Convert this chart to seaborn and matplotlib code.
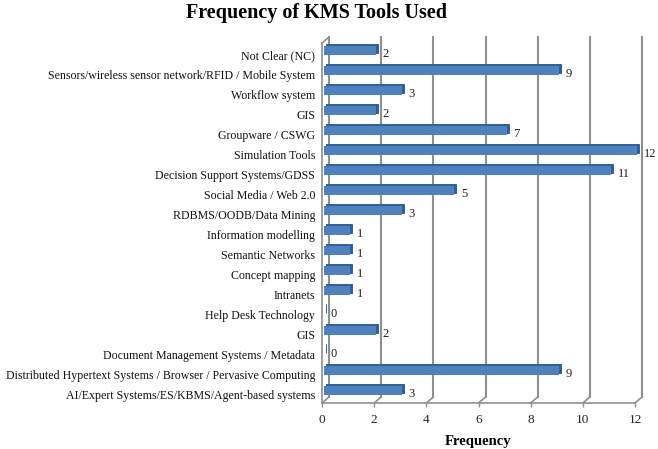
import matplotlib
matplotlib.use("Agg")
import matplotlib.pyplot as plt
import seaborn as sns
import pandas as pd
from matplotlib.transforms import Affine2D

categories = ["Not Clear (NC)", "Sensors/wireless sensor network/RFID / Mobile System", "Workflow system", "GIS",
              "Groupware / CSWG", "Simulation Tools", "Decision Support Systems/GDSS", "Social Media / Web 2.0",
              "RDBMS/OODB/Data Mining", "Information modelling", "Semantic Networks", "Concept mapping", "Intranets",
              "Help Desk Technology", "GIS", "Document Management Systems / Metadata",
              "Distributed Hypertext Systems / Browser / Pervasive Computing", "AI/Expert Systems/ES/KBMS/Agent-based systems"]
frequency = [2, 9, 3, 2, 7, 12, 11, 5, 3, 1, 1, 1, 1, 0, 2, 0, 9, 3]
xticks = [0, 2, 4, 6, 8, 10, 12]

W, H = 658, 449
plt.rcParams["font.family"] = ["Liberation Serif", "DejaVu Serif"]
fig = plt.figure(figsize=(W / 100, H / 100), dpi=100, facecolor="white")
ax = fig.add_axes([322 / W, 1 - 403 / H, 313 / W, 360 / H])
df = pd.DataFrame({"pos": list(range(len(categories))), "f": frequency})


def shift_patch(p, dx, dy):
    p.set_transform(ax.transData + Affine2D().translate(dx, dy))
    p.set_clip_on(False)


sns.barplot(data=df, y="pos", x="f", orient="h", native_scale=True, color="#2F6099", saturation=1, width=0.44,
            edgecolor="#2F6099", linewidth=0.7, ax=ax, zorder=3)
n_side = len(ax.patches)
for p in ax.patches:
    shift_patch(p, 4, 4.2)
sns.barplot(data=df, y="pos", x="f", orient="h", native_scale=True, color="#4F81BD", saturation=1, width=0.44,
            linewidth=0, ax=ax, zorder=4)
for p in ax.patches[n_side:]:
    shift_patch(p, 2, 2.8)

ax.set_xlim(0, 12)
ax.set_ylim(len(categories) - 0.5, -0.5)
for s in ax.spines.values():
    s.set_visible(False)

gray = "#8F8F8F"
dx, dy = 7, 6
xt = ax.get_xaxis_transform()
for v in xticks:
    ax.plot([v, v], [0, 1], transform=xt + Affine2D().translate(dx, dy), color=gray, lw=1.5, zorder=1, clip_on=False)
    x0, y0 = xt.transform((v, 0))
    ax.plot([x0, x0 + dx], [y0, y0 + dy], color=gray, lw=1.2, zorder=1, clip_on=False, transform=Affine2D())
x0, y1 = xt.transform((0, 1))
ax.plot([x0, x0 + dx], [y1, y1 + dy], transform=Affine2D(), color=gray, lw=1.2, clip_on=False, zorder=1)
ax.axvline(0, color=gray, lw=1.2, zorder=2, clip_on=False)
ax.axhline(len(categories) - 0.5, color=gray, lw=1.2, zorder=2, clip_on=False)

for i, v in enumerate(frequency):
    ax.annotate(str(v), (v, i), xytext=(6.2, -0.5), textcoords="offset points", fontsize=9, va="center",
                ha="left", color="#222222", zorder=5, annotation_clip=False)

ax.set_xticks(xticks)
ax.set_yticks(df["pos"].tolist())
ax.set_yticklabels(categories)
ax.tick_params(axis="x", length=3, color=gray, width=1, labelsize=9.5, pad=5, labelcolor="#222222")
ax.tick_params(axis="y", length=0, labelsize=8.6, pad=5, labelcolor="#111111")
for lbl in ax.get_yticklabels():
    lbl.set_transform(lbl.get_transform() + Affine2D().translate(0, -1.5))
ax.set_ylabel("")
ax.set_xlabel("Frequency", fontsize=10.5, fontweight="bold", labelpad=6.5)
fig.text(316 / W, 1 - 13 / H, "Frequency of KMS Tools Used", fontsize=14.5, fontweight="bold", ha="center",
         va="center", color="black")
fig.savefig("out.png", dpi=100)
